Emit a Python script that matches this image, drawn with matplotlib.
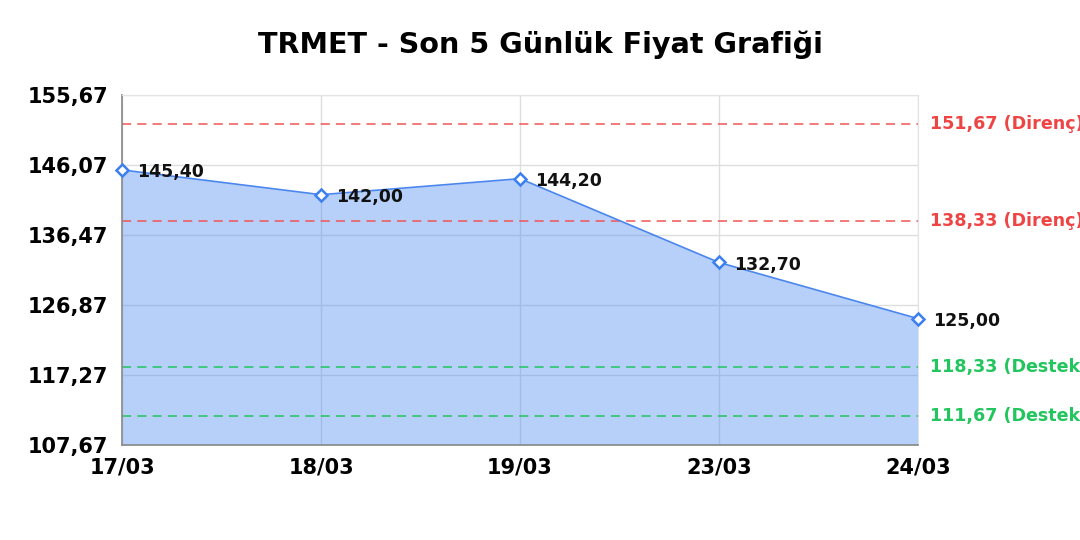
import matplotlib.pyplot as plt

plt.rcParams["font.family"] = ["DejaVu Sans"]

# Veriler
dates = ["17/03", "18/03", "19/03", "23/03", "24/03"]
prices = [145.40, 142.00, 144.20, 132.70, 125.00]
y_ticks = [107.67, 117.27, 126.87, 136.47, 146.07, 155.67]
resistance = [151.67, 138.33]
support = [118.33, 111.67]


def tr(v):
    return f"{v:.2f}".replace(".", ",")


fig = plt.figure(figsize=(10.8, 5.4), dpi=100)
ax = fig.add_axes([0.113, 0.176, 0.737, 0.648])

x = list(range(len(dates)))
ax.fill_between(x, prices, y_ticks[0], color="#4285f4", alpha=0.38, lw=0, zorder=1)
ax.plot(x, prices, color="#4a86ee", lw=1.2, zorder=3)
ax.plot(x, prices, ls="none", marker="D", ms=6.5, mfc="white", mec="#3b7ff0",
        mew=1.8, zorder=4, clip_on=False)

for xi, p in zip(x, prices):
    ax.annotate(tr(p), (xi, p), xytext=(11, -1.5), textcoords="offset points",
                ha="left", va="center", fontsize=12.5, fontweight="bold",
                color="#111111", zorder=5)

for r in resistance:
    ax.axhline(r, color="#f05555", ls=(0, (6, 4)), lw=1.1, zorder=2)
    ax.annotate(f"{tr(r)} (Direnç)", (1, r), xycoords=("axes fraction", "data"),
                xytext=(9, 0), textcoords="offset points", ha="left", va="center",
                fontsize=12.6, fontweight="bold", color="#ef4444",
                annotation_clip=False)
for s in support:
    ax.axhline(s, color="#22c55e", ls=(0, (6, 4)), lw=1.1, zorder=2)
    ax.annotate(f"{tr(s)} (Destek)", (1, s), xycoords=("axes fraction", "data"),
                xytext=(9, 0), textcoords="offset points", ha="left", va="center",
                fontsize=12.6, fontweight="bold", color="#22c55e",
                annotation_clip=False)

ax.set_xlim(0, len(dates) - 1)
ax.set_ylim(y_ticks[0], y_ticks[-1])
ax.set_xticks(x)
ax.set_xticklabels(dates, fontsize=15, fontweight="bold")
ax.set_yticks(y_ticks)
ax.set_yticklabels([tr(v) for v in y_ticks], fontsize=15, fontweight="bold")
ax.tick_params(axis="y", length=0, pad=10)
ax.tick_params(axis="x", length=0, pad=9)
ax.grid(True, color="#dedede", lw=1, zorder=0)
ax.set_axisbelow(True)

for side in ["top", "right"]:
    ax.spines[side].set_color("#e3e3e3")
for side in ["left", "bottom"]:
    ax.spines[side].set_color("#888888")
    ax.spines[side].set_linewidth(1.2)

fig.suptitle("TRMET - Son 5 Günlük Fiyat Grafiği", fontsize=20.6, fontweight="bold",
             y=0.918, va="center")

fig.savefig("out.png", dpi=100)
